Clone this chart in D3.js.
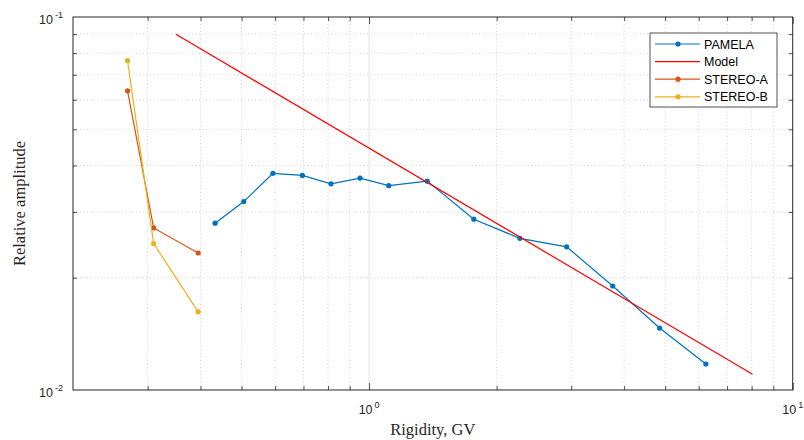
<!DOCTYPE html>
<html>
<head>
<meta charset="utf-8">
<script src="https://cdn.jsdelivr.net/npm/d3@7"></script>
<style>
  body { margin: 0; background: #fff; }
  svg { display: block; }
</style>
</head>
<body>
<div id="chart"></div>
<script>
// data
const pamelaR = [0.433, 0.506, 0.593, 0.696, 0.813, 0.952, 1.113, 1.372, 1.767, 2.270, 2.927, 3.760, 4.850, 6.237];
const pamelaA = [0.0280, 0.0320, 0.0381, 0.0376, 0.0357, 0.0370, 0.0353, 0.0363, 0.0287, 0.0255, 0.0242, 0.0190, 0.01466, 0.01174];
const modelR = [0.350, 8.04];
const modelA = [0.0899, 0.01102];
const stereoAR = [0.269, 0.310, 0.395];
const stereoAA = [0.0634, 0.0272, 0.0233];
const stereoBR = [0.269, 0.310, 0.395];
const stereoBA = [0.0764, 0.0247, 0.0162];

const xMajor = [1, 10];
const yMajor = [0.01, 0.1];
const xMinor = [0.3, 0.4, 0.5, 0.6, 0.7, 0.8, 0.9, 2, 3, 4, 5, 6, 7, 8, 9];
const yMinor = [0.02, 0.03, 0.04, 0.05, 0.06, 0.07, 0.08, 0.09];

// configure graph
const width = 804, height = 440;
const margin = {left: 73, right: 11.3, top: 17, bottom: 50};
const iw = width - margin.left - margin.right;
const ih = height - margin.top - margin.bottom;
const axisColor = '#262626';

const series = [
  {name: 'PAMELA', r: pamelaR, a: pamelaA, color: '#0072BD', marker: true},
  {name: 'Model', r: modelR, a: modelA, color: '#FF0000', marker: false},
  {name: 'STEREO-A', r: stereoAR, a: stereoAA, color: '#D95319', marker: true},
  {name: 'STEREO-B', r: stereoBR, a: stereoBA, color: '#EDB120', marker: true}
];

const svg = d3.select('#chart').append('svg')
  .attr('width', width).attr('height', height);
svg.append('rect').attr('width', width).attr('height', height).attr('fill', '#fff');

const x = d3.scaleLog().domain([0.2, 10]).range([0, iw]);
const y = d3.scaleLog().domain([0.01, 0.1]).range([ih, 0]);

const g = svg.append('g').attr('transform', `translate(${margin.left},${margin.top})`);

// grid: minor dotted, major solid
const grid = g.append('g').attr('class', 'grid');
grid.selectAll('line.xminor').data(xMinor).enter().append('line')
  .attr('x1', d => x(d)).attr('x2', d => x(d)).attr('y1', 0).attr('y2', ih)
  .attr('stroke', '#c8c8c8').attr('stroke-width', 0.8).attr('stroke-dasharray', '1,2.5');
grid.selectAll('line.yminor').data(yMinor).enter().append('line')
  .attr('y1', d => y(d)).attr('y2', d => y(d)).attr('x1', 0).attr('x2', iw)
  .attr('stroke', '#c8c8c8').attr('stroke-width', 0.8).attr('stroke-dasharray', '1,2.5');
grid.selectAll('line.xmajor').data([1]).enter().append('line')
  .attr('x1', d => x(d)).attr('x2', d => x(d)).attr('y1', 0).attr('y2', ih)
  .attr('stroke', '#e3e3e3').attr('stroke-width', 1);

// inside ticks on all four sides
function ticks(axisFn, vals, size, transform){
  g.append('g').attr('transform', transform)
    .call(axisFn.tickValues(vals).tickSizeInner(-size).tickSizeOuter(0).tickFormat(''))
    .call(s => s.select('.domain').remove())
    .call(s => s.selectAll('line').attr('stroke', axisColor).attr('stroke-width', 0.8));
}
ticks(d3.axisBottom(x), xMinor, 4, `translate(0,${ih})`);
ticks(d3.axisBottom(x), xMajor, 7, `translate(0,${ih})`);
ticks(d3.axisTop(x), xMinor, 4, 'translate(0,0)');
ticks(d3.axisTop(x), xMajor, 7, 'translate(0,0)');
ticks(d3.axisLeft(y), yMinor, 4, 'translate(0,0)');
ticks(d3.axisRight(y), yMinor, 4, `translate(${iw},0)`);

// frame
g.append('rect').attr('width', iw).attr('height', ih)
  .attr('fill', 'none').attr('stroke', axisColor).attr('stroke-width', 1);

// tick labels with superscripts
const fontSans = 'Arial, "Liberation Sans", Helvetica, sans-serif';
function powLabel(sel, v){
  const e = Math.round(Math.log10(v));
  sel.append('tspan').text('10');
  sel.append('tspan').attr('font-size', 9).attr('dx', 2).attr('dy', -6).text(e);
}
g.selectAll('text.xlab').data(xMajor).enter().append('text')
  .attr('x', d => x(d)).attr('y', ih + 24)
  .attr('text-anchor', 'middle').attr('font-family', fontSans).attr('font-size', 12.5)
  .attr('fill', axisColor)
  .each(function(d){ powLabel(d3.select(this), d); });
g.selectAll('text.ylab').data(yMajor).enter().append('text')
  .attr('x', -10).attr('y', d => y(d) + 7)
  .attr('text-anchor', 'end').attr('font-family', fontSans).attr('font-size', 12.5)
  .attr('fill', axisColor)
  .each(function(d){ powLabel(d3.select(this), d); });

// axis titles
const fontSerif = '"Liberation Serif", "DejaVu Serif", serif';
g.append('text').attr('x', iw / 2).attr('y', ih + 45)
  .attr('text-anchor', 'middle').attr('font-family', fontSerif).attr('font-size', 16.5)
  .attr('fill', axisColor).text('Rigidity, GV');
g.append('text').attr('transform', `translate(${25 - margin.left},${ih / 2}) rotate(-90)`)
  .attr('text-anchor', 'middle').attr('font-family', fontSerif).attr('font-size', 16.5)
  .attr('fill', axisColor).text('Relative amplitude');

// series
const line = d3.line().x(d => x(d[0])).y(d => y(d[1]));
const plot = g.append('g');
for (const s of series){
  const pts = s.r.map((r, i) => [r, s.a[i]]);
  plot.append('path').datum(pts).attr('d', line)
    .attr('fill', 'none').attr('stroke', s.color).attr('stroke-width', 1.2);
  if (s.marker){
    plot.selectAll(null).data(pts).enter().append('circle')
      .attr('cx', d => x(d[0])).attr('cy', d => y(d[1])).attr('r', 2.6)
      .attr('fill', s.color);
  }
}

// legend
const lg = svg.append('g').attr('transform', 'translate(650,33)');
lg.append('rect').attr('width', 127).attr('height', 74)
  .attr('fill', '#fff').attr('stroke', axisColor).attr('stroke-width', 0.8);
const items = lg.selectAll('g.item').data(series).enter().append('g')
  .attr('transform', (d, i) => `translate(0,${11 + i * 17.6})`);
items.append('line').attr('x1', 5).attr('x2', 50).attr('y1', 0).attr('y2', 0)
  .attr('stroke', d => d.color).attr('stroke-width', 1.2);
items.filter(d => d.marker).append('circle').attr('cx', 28).attr('cy', 0).attr('r', 2.6)
  .attr('fill', d => d.color);
items.append('text').attr('x', 54).attr('y', 4.5)
  .attr('font-family', fontSans).attr('font-size', 12.5).attr('fill', '#000')
  .text(d => d.name);
</script>
</body>
</html>
